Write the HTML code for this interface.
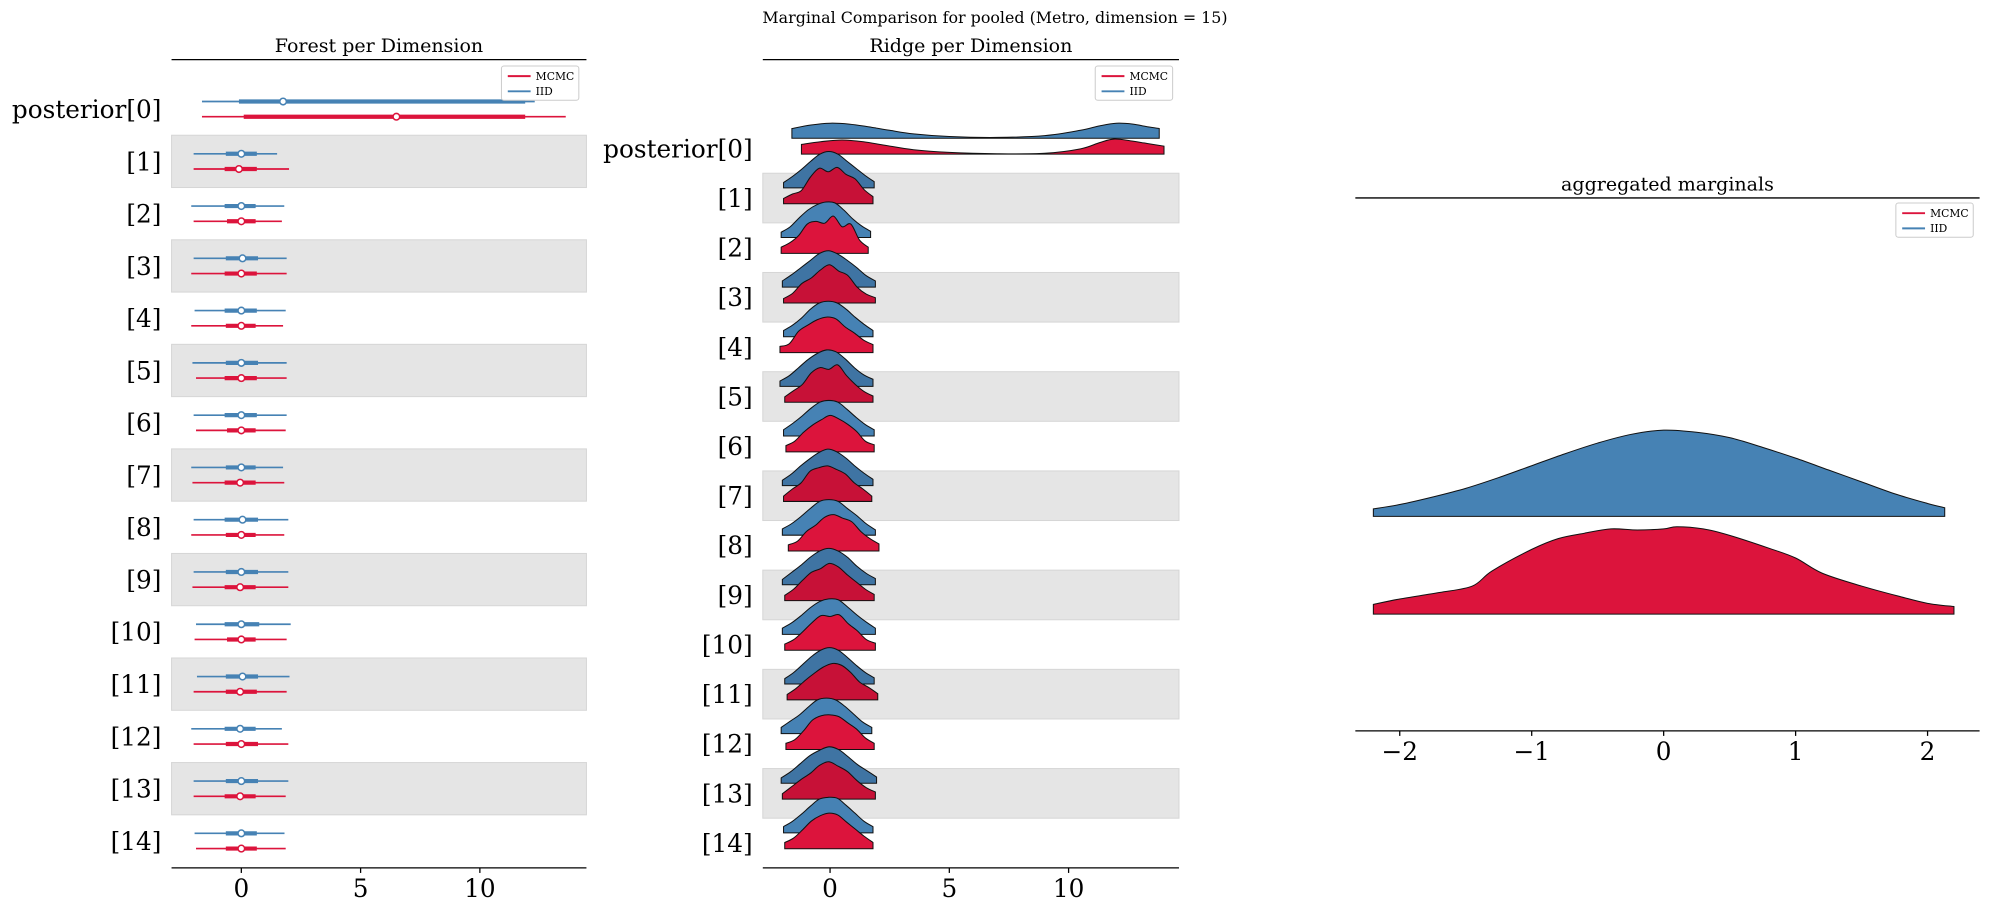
<!DOCTYPE html>
<html><head><meta charset="utf-8"><style>
html,body{margin:0;padding:0;background:#fff;}
svg{display:block;font-family:"DejaVu Serif","Liberation Serif",serif;}
</style></head><body>
<svg id="fig" width="1990" height="911" viewBox="0 0 1568 718" xmlns="http://www.w3.org/2000/svg">
<text x="784" y="18" font-size="12.5" text-anchor="middle">Marginal Comparison for pooled (Metro, dimension = 15)</text>
<g id="forest"></g>
<g id="ridge"></g>
<g id="agg"></g>
</svg>
<script>
const rowLabels = ["posterior[0]","[1]","[2]","[3]","[4]","[5]","[6]","[7]","[8]","[9]","[10]","[11]","[12]","[13]","[14]"];
const blueLo  = [-1.65,-2.0,-2.1,-2.0,-1.96,-2.05,-2.0,-2.1,-2.0,-2.0,-1.9,-1.86,-2.1,-2.0,-1.96];
const blueHi  = [12.3,1.5,1.8,1.9,1.86,1.9,1.9,1.75,1.97,1.97,2.07,2.02,1.7,1.97,1.81];
const blueQ1  = [-0.1,-0.65,-0.7,-0.65,-0.7,-0.65,-0.7,-0.65,-0.7,-0.65,-0.7,-0.65,-0.7,-0.65,-0.65];
const blueQ3  = [11.9,0.65,0.6,0.7,0.65,0.7,0.65,0.6,0.7,0.7,0.75,0.7,0.6,0.7,0.65];
const blueMed = [1.75,0.0,0.0,0.05,0.0,0.0,0.0,0.0,0.05,0.0,0.0,0.05,-0.05,0.0,0.0];
const redLo   = [-1.65,-2.0,-2.0,-2.1,-2.1,-1.9,-1.9,-2.05,-2.1,-2.05,-1.96,-2.0,-2.0,-2.0,-1.9];
const redHi   = [13.6,2.0,1.7,1.9,1.75,1.9,1.86,1.8,1.8,1.97,1.9,1.9,1.97,1.86,1.86];
const redQ1   = [0.1,-0.7,-0.6,-0.7,-0.65,-0.7,-0.6,-0.7,-0.65,-0.7,-0.6,-0.65,-0.65,-0.7,-0.65];
const redQ3   = [11.9,0.65,0.6,0.65,0.6,0.65,0.6,0.6,0.6,0.6,0.6,0.65,0.7,0.6,0.65];
const redMed  = [6.5,-0.1,0.0,0.0,0.0,0.0,0.0,-0.05,0.0,-0.05,0.0,-0.05,0.0,-0.05,0.0];
const forestTicks = [0,5,10];

const ridge0BlueX = [-1.6,-0.8,0,0.8,1.6,2.5,3.5,5,7,9,10.5,11.3,12,12.7,13.3,13.8];
const ridge0Blue  = [0.11,0.15,0.17,0.16,0.13,0.09,0.05,0.02,0.01,0.03,0.09,0.14,0.17,0.16,0.13,0.11];
const ridge0RedX  = [-1.2,-0.4,0.5,1.4,2.3,3.5,5,7,9,10.5,11.3,11.9,12.6,13.3,14];
const ridge0Red   = [0.11,0.14,0.16,0.14,0.10,0.05,0.02,0.005,0.01,0.06,0.13,0.17,0.15,0.12,0.09];
const ridgeBlueMin = [-1.95,-2.05,-2.0,-1.95,-2.1,-1.95,-2.0,-2.0,-2.0,-2.0,-1.9,-2.05,-2.05,-1.95];
const ridgeBlueMax = [1.85,1.7,1.9,1.8,1.8,1.85,1.8,1.9,1.9,1.9,1.85,1.75,1.95,1.8];
const ridgeRedMin  = [-1.95,-2.05,-1.95,-2.1,-1.9,-1.85,-1.95,-1.75,-1.9,-1.9,-1.8,-1.85,-2.0,-1.9];
const ridgeRedMax  = [1.8,1.6,1.9,1.8,1.8,1.85,1.75,2.05,1.85,1.9,2.0,1.85,1.9,1.8];
const ridgeBlue = [
 [0.06,0.13,0.21,0.30,0.38,0.41,0.38,0.30,0.22,0.14,0.07],
 [0.06,0.12,0.22,0.31,0.37,0.40,0.39,0.31,0.21,0.13,0.07],
 [0.07,0.14,0.22,0.30,0.38,0.41,0.37,0.30,0.22,0.13,0.07],
 [0.07,0.13,0.21,0.31,0.38,0.40,0.38,0.31,0.22,0.14,0.07],
 [0.06,0.12,0.21,0.30,0.37,0.41,0.39,0.31,0.21,0.13,0.08],
 [0.07,0.14,0.22,0.31,0.38,0.40,0.38,0.30,0.21,0.13,0.07],
 [0.06,0.13,0.22,0.30,0.37,0.41,0.38,0.31,0.22,0.14,0.07],
 [0.07,0.13,0.21,0.30,0.38,0.40,0.38,0.30,0.22,0.13,0.06],
 [0.06,0.14,0.22,0.31,0.38,0.41,0.38,0.31,0.21,0.13,0.07],
 [0.07,0.13,0.21,0.30,0.37,0.40,0.39,0.31,0.22,0.14,0.07],
 [0.06,0.13,0.22,0.31,0.38,0.41,0.38,0.30,0.21,0.13,0.07],
 [0.07,0.14,0.21,0.30,0.38,0.40,0.38,0.31,0.22,0.13,0.07],
 [0.06,0.13,0.22,0.31,0.37,0.41,0.38,0.30,0.21,0.14,0.07],
 [0.07,0.13,0.21,0.30,0.38,0.40,0.39,0.31,0.22,0.13,0.07]];
const ridgeRed = [
 [0.06,0.11,0.15,0.30,0.40,0.36,0.41,0.33,0.28,0.16,0.08],
 [0.07,0.12,0.20,0.33,0.36,0.34,0.42,0.30,0.33,0.15,0.07],
 [0.05,0.11,0.22,0.28,0.37,0.43,0.36,0.31,0.18,0.10,0.06],
 [0.07,0.10,0.24,0.31,0.37,0.40,0.38,0.29,0.22,0.14,0.09],
 [0.06,0.13,0.20,0.33,0.39,0.37,0.42,0.30,0.20,0.12,0.07],
 [0.07,0.12,0.22,0.30,0.36,0.41,0.37,0.31,0.23,0.12,0.08],
 [0.06,0.14,0.21,0.34,0.38,0.40,0.36,0.31,0.21,0.14,0.06],
 [0.07,0.11,0.22,0.29,0.38,0.41,0.37,0.33,0.22,0.14,0.08],
 [0.06,0.13,0.23,0.32,0.36,0.42,0.38,0.29,0.21,0.13,0.07],
 [0.07,0.12,0.21,0.31,0.39,0.38,0.40,0.30,0.22,0.12,0.08],
 [0.06,0.13,0.22,0.30,0.37,0.41,0.39,0.31,0.20,0.14,0.07],
 [0.07,0.11,0.21,0.33,0.38,0.39,0.37,0.30,0.23,0.13,0.07],
 [0.06,0.14,0.22,0.29,0.38,0.42,0.37,0.31,0.21,0.13,0.08],
 [0.07,0.12,0.21,0.31,0.37,0.40,0.38,0.30,0.22,0.14,0.07]];

const aggBlueX = [-2.2,-2.0,-1.75,-1.5,-1.25,-1.0,-0.75,-0.5,-0.25,0,0.25,0.5,0.75,1.0,1.25,1.5,1.75,2.0,2.13];
const aggBlue  = [0.035,0.055,0.09,0.13,0.18,0.235,0.29,0.34,0.38,0.40,0.39,0.365,0.32,0.27,0.215,0.16,0.105,0.06,0.04];
const aggRedX  = [-2.2,-2.0,-1.7,-1.45,-1.3,-1.0,-0.8,-0.6,-0.4,-0.2,0.0,0.1,0.3,0.5,0.8,1.0,1.2,1.5,1.8,2.0,2.2];
const aggRed   = [0.045,0.07,0.10,0.13,0.20,0.30,0.35,0.375,0.395,0.39,0.395,0.405,0.395,0.365,0.305,0.26,0.19,0.13,0.08,0.05,0.035];
const aggTicks = [-2,-1,0,1,2];

const NS="http://www.w3.org/2000/svg";
function mk(tag, attrs, parent){const e=document.createElementNS(NS,tag);for(const k in attrs)e.setAttribute(k,attrs[k]);parent.appendChild(e);return e;}
function smooth(pts){let d="";for(let i=0;i<pts.length-1;i++){const p0=pts[Math.max(0,i-1)],p1=pts[i],p2=pts[i+1],p3=pts[Math.min(pts.length-1,i+2)];
 const c1=[p1[0]+(p2[0]-p0[0])/6,p1[1]+(p2[1]-p0[1])/6],c2=[p2[0]-(p3[0]-p1[0])/6,p2[1]-(p3[1]-p1[1])/6];
 d+=` C${c1[0].toFixed(2)},${c1[1].toFixed(2)} ${c2[0].toFixed(2)},${c2[1].toFixed(2)} ${p2[0].toFixed(2)},${p2[1].toFixed(2)}`;}return d;}
function ridgePath(xs,vals,sx,base,hs){const pts=xs.map((x,i)=>[sx(x),base-vals[i]*hs]);
 return `M${pts[0][0]},${base} L${pts[0][0]},${pts[0][1]}`+smooth(pts)+` L${pts[pts.length-1][0]},${base} Z`;}
function legend(g,x,y){
 const b=mk('rect',{x:x,y:y,width:61,height:27,rx:2,fill:'#fff',stroke:'#ccc','stroke-width':0.8},g);
 
 const l1=mk('line',{x1:x+5,x2:x+23,y1:y+8,y2:y+8,stroke:'#dc143c','stroke-width':1.5},g);
 
 const t1=mk('text',{x:x+27,y:y+11,'font-size':8.5},g);t1.textContent='MCMC';
 
 const l2=mk('line',{x1:x+5,x2:x+23,y1:y+20,y2:y+20,stroke:'#4682b4','stroke-width':1.5},g);
 
 const t2=mk('text',{x:x+27,y:y+23,'font-size':8.5},g);t2.textContent='IID';
 
}
function axisPanel(g,x0,x1,yTop,yAx,title,ticks,sx,fmt){
 const t=mk('text',{x:(x0+x1)/2,y:yTop-6,'font-size':15,'text-anchor':'middle'},g);t.textContent=title;
 
 const tl=mk('line',{x1:x0,x2:x1,y1:yTop,y2:yTop,stroke:'#000','stroke-width':1},g);
 
 const ax=mk('line',{x1:x0,x2:x1,y1:yAx,y2:yAx,stroke:'#000','stroke-width':1},g);
 
 ticks.forEach(v=>{const X=sx(v);
  const tk=mk('line',{x1:X,x2:X,y1:yAx,y2:yAx+4,stroke:'#000','stroke-width':1},g);
  
  const tt=mk('text',{x:X,y:yAx+23,'font-size':19.5,'text-anchor':'middle'},g);tt.textContent=fmt(v);
  });
}

// Forest
(function(){
 const g=document.getElementById('forest');
 const sx=v=>190+v*18.8, cy=i=>86+41.2*i;
 rowLabels.forEach((lab,i)=>{ if(i%2===1){const r=mk('rect',{x:135,y:cy(i)-20.6,width:327,height:41.2,fill:'#e5e5e5',stroke:'#d6d6d6','stroke-width':0.8},g);
   }});
 axisPanel(g,135,462,47,684,'Forest per Dimension',forestTicks,sx,v=>String(v));
 rowLabels.forEach((lab,i)=>{const c=cy(i);
  const t=mk('text',{x:127,y:c+7,'font-size':19.5,'text-anchor':'end'},g);t.textContent=lab;
  
  [[c-6,'#4682b4',blueLo,blueHi,blueQ1,blueQ3,blueMed,'iid'],[c+6,'#dc143c',redLo,redHi,redQ1,redQ3,redMed,'mcmc']].forEach(s=>{
   const [y,col,lo,hi,q1,q3,md,nm]=s;
   const a=mk('line',{x1:sx(lo[i]),x2:sx(hi[i]),y1:y,y2:y,stroke:col,'stroke-width':1.3},g);
   
   const b=mk('line',{x1:sx(q1[i]),x2:sx(q3[i]),y1:y,y2:y,stroke:col,'stroke-width':3.3},g);
   
   const d=mk('circle',{cx:sx(md[i]),cy:y,r:2.6,fill:'#fff',stroke:col,'stroke-width':1.2},g);
   });
 });
 legend(g,395,52);
})();

// Ridge
(function(){
 const g=document.getElementById('ridge');
 const sx=v=>654+v*18.8, cy=i=>117+39.1*i, hs=70;
 rowLabels.forEach((lab,i)=>{ if(i%2===1){const r=mk('rect',{x:601,y:cy(i)-19.55,width:328,height:39.1,fill:'#e5e5e5',stroke:'#d6d6d6','stroke-width':0.8},g);
   }});
 axisPanel(g,601,929,47,684,'Ridge per Dimension',forestTicks,sx,v=>String(v));
 rowLabels.forEach((lab,i)=>{const c=cy(i);
  const t=mk('text',{x:593,y:c+7,'font-size':19.5,'text-anchor':'end'},g);t.textContent=lab;
  });
 rowLabels.forEach((lab,i)=>{const c=cy(i);
  let bx,bv,rx,rv;
  if(i===0){bx=ridge0BlueX;bv=ridge0Blue;rx=ridge0RedX;rv=ridge0Red;}
  else{const k=i-1;bv=ridgeBlue[k];rv=ridgeRed[k];
   bx=bv.map((_,j)=>ridgeBlueMin[k]+(ridgeBlueMax[k]-ridgeBlueMin[k])*j/(bv.length-1));
   rx=rv.map((_,j)=>ridgeRedMin[k]+(ridgeRedMax[k]-ridgeRedMin[k])*j/(rv.length-1));}
  const shaded=i%2===1;
  const pb=mk('path',{d:ridgePath(bx,bv,sx,c-8,hs),fill:shaded?'#3f74a3':'#4682b4',stroke:'#111','stroke-width':0.8},g);
  
  const pr=mk('path',{d:ridgePath(rx,rv,sx,c+4.5,hs),fill:shaded?'#c71137':'#dc143c',stroke:'#111','stroke-width':0.8},g);
  
 });
 legend(g,863,52);
})();

// Aggregated
(function(){
 const g=document.getElementById('agg');
 const sx=v=>1311+v*104, hs=170;
 axisPanel(g,1068,1560,156,576,'aggregated marginals',aggTicks,sx,v=>v<0?'\u2212'+Math.abs(v):String(v));
 const pb=mk('path',{d:ridgePath(aggBlueX,aggBlue,sx,407,hs),fill:'#4682b4',stroke:'#111','stroke-width':0.8},g);
 
 const pr=mk('path',{d:ridgePath(aggRedX,aggRed,sx,484,hs),fill:'#dc143c',stroke:'#111','stroke-width':0.8},g);
 
 legend(g,1494,160);
})();
</script>
</body></html>
